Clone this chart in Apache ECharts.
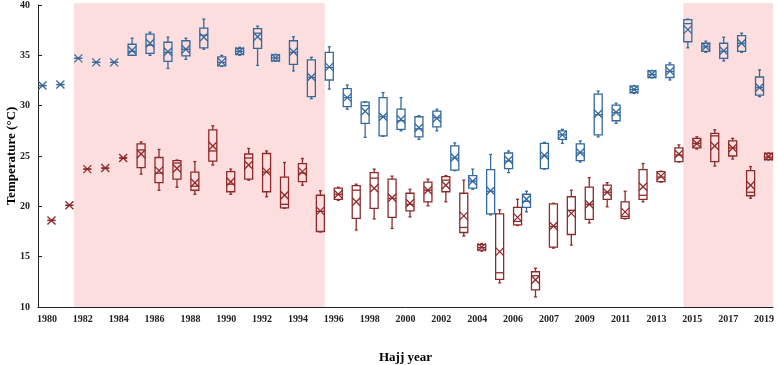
<!DOCTYPE html>
<html>
<head>
<meta charset="utf-8">
<title>Hajj temperature</title>
<script src="https://cdn.jsdelivr.net/npm/echarts@6/dist/echarts.min.js"></script>
<style>
  html, body { margin: 0; padding: 0; background: #fff; }
  #chart { width: 778px; height: 365px; }
</style>
</head>
<body>
<div id="chart"></div>
<script>
// Hajj years (2006 had two Hajj seasons)
var years = ['1980','1981','1982','1983','1984','1985','1986','1987','1988','1989',
  '1990','1991','1992','1993','1994','1995','1996','1997','1998','1999',
  '2000','2001','2002','2003','2004','2005','2006','2006','2007','2008',
  '2009','2010','2011','2012','2013','2014','2015','2016','2017','2018','2019'];

// shaded periods (first / last year)
var shadedSpans = [['1982', '1995'], ['2015', '2019']];

// blue series (upper)
var blueMin  = [32.0,32.1,34.7,34.3,34.3,35.0,35.0,33.7,34.6,35.6,33.9,35.0,34.0,34.4,33.45,30.7,31.65,29.65,26.85,26.95,27.5,26.65,27.5,23.55,21.7,19.15,23.35,19.45,23.7,26.25,24.4,26.9,28.25,31.2,32.75,32.55,35.75,35.3,34.45,35.3,30.9];
var blueQ1   = [32.0,32.1,34.7,34.3,34.3,35.0,35.2,34.4,34.95,35.75,33.95,35.1,35.7,34.45,34.1,30.9,32.55,29.9,28.25,27.0,27.65,26.9,27.9,23.6,21.8,19.25,23.75,19.9,23.75,26.65,24.55,27.1,28.5,31.3,32.8,32.8,36.35,35.4,34.7,35.4,31.05];
var blueMed  = [32.0,32.1,34.7,34.3,34.3,35.4,36.0,35.3,35.6,37.0,34.3,35.4,37.2,34.75,35.3,32.8,33.8,30.8,30.0,28.9,28.5,27.7,28.8,24.8,22.5,21.5,24.5,20.5,25.0,27.1,25.3,29.1,29.3,31.6,33.1,33.4,38.15,35.85,35.4,36.2,31.8];
var blueQ3   = [32.0,32.1,34.7,34.3,34.3,36.1,37.1,36.3,36.45,37.7,34.85,35.7,37.65,35.05,36.45,34.55,35.3,31.7,30.35,30.8,29.65,28.9,29.45,26.0,23.05,23.65,25.3,21.2,26.25,27.5,26.2,31.15,30.05,31.95,33.45,34.05,38.55,36.2,36.2,36.95,32.85];
var blueMax  = [32.0,32.1,34.7,34.3,34.3,36.7,37.3,36.8,36.7,38.6,35.0,35.8,37.9,35.1,36.85,34.8,35.85,32.05,30.4,31.3,30.8,29.0,29.65,26.3,23.7,25.15,25.5,21.5,26.35,27.65,26.5,31.45,30.25,32.0,33.5,34.25,38.6,36.4,36.8,37.2,33.55];
var blueMean = [32.0,32.1,34.7,34.3,34.3,35.5,36.2,35.35,35.6,36.8,34.35,35.4,36.85,34.75,35.35,32.85,33.85,30.8,29.45,28.9,28.65,27.8,28.75,24.85,22.5,21.55,24.6,20.7,25.05,27.1,25.35,29.2,29.35,31.6,33.15,33.45,37.55,35.85,35.45,36.2,31.8];

// red series (lower)
var redMin  = [18.6,20.1,23.7,23.8,24.8,23.2,21.6,21.9,21.2,24.1,21.2,22.6,20.95,19.8,22.1,17.45,20.6,17.65,18.75,17.8,18.95,20.05,20.45,17.05,15.55,12.4,18.1,11.0,15.85,16.15,18.35,19.95,18.75,20.45,22.4,24.4,25.7,24.0,24.7,20.8,24.6];
var redQ1   = [18.6,20.1,23.7,23.8,24.8,23.85,22.35,22.7,21.6,24.5,21.45,22.7,21.45,19.85,22.45,17.5,20.7,18.8,19.8,18.9,19.55,20.45,21.45,17.4,15.65,12.75,18.15,11.7,15.95,17.2,18.7,20.7,18.8,20.7,22.45,24.45,25.8,24.45,25.0,21.05,24.65];
var redMed  = [18.6,20.1,23.7,23.8,24.8,25.6,23.3,24.3,22.0,25.5,22.2,24.8,23.4,20.2,23.3,19.5,21.2,21.6,22.8,20.8,20.2,21.6,22.6,17.9,15.9,13.4,18.5,13.1,18.0,19.6,20.2,21.4,19.0,21.1,22.9,25.1,26.25,27.0,25.8,21.4,24.9];
var redQ3   = [18.6,20.1,23.7,23.8,24.8,26.2,24.85,24.55,23.4,27.6,23.45,25.2,25.25,22.9,24.25,21.1,21.8,22.05,23.35,22.7,21.3,22.4,22.95,21.3,16.2,19.25,19.9,13.5,20.25,20.95,21.9,22.1,20.45,23.65,23.45,25.8,26.75,27.25,26.5,23.55,25.25];
var redMax  = [18.6,20.1,23.7,23.8,24.8,26.4,25.65,24.6,24.45,28.0,23.7,25.75,25.5,24.35,24.75,21.55,21.9,22.2,23.7,23.0,21.7,22.7,23.05,22.6,16.3,19.65,20.7,13.85,20.3,21.6,22.85,22.35,21.5,24.25,23.5,26.1,26.9,27.6,26.75,23.95,25.3];
var redMean = [18.6,20.1,23.7,23.8,24.8,25.2,23.55,23.75,22.35,26.0,22.45,24.1,23.45,21.1,23.45,19.55,21.2,20.45,21.8,20.85,20.3,21.6,22.1,19.05,15.95,15.5,18.9,12.7,18.05,19.3,20.2,21.4,19.45,21.95,23.0,25.2,26.25,26.0,25.8,22.1,24.95];

var BLUE = '#35699c';
var RED = '#8e2a2a';
var PINK = '#fcdede';
var FONT = 'Liberation Serif';

// rows for the custom series: [index, min, q1, median, q3, max, mean]
function buildRows(mn, q1, md, q3, mx, mean) {
  var rows = [];
  for (var i = 0; i < years.length; i++) {
    rows.push([i, mn[i], q1[i], md[i], q3[i], mx[i], mean[i]]);
  }
  return rows;
}

function spanRows() {
  var rows = [];
  shadedSpans.forEach(function (s) {
    var a = -1, b = -1;
    years.forEach(function (y, i) {
      if (y === s[0] && a < 0) a = i;
      if (y === s[1]) b = i;
    });
    rows.push([a, b]);
  });
  return rows;
}

// Excel-like box: box + median + small caps + X at the mean
function boxRenderer(color, offset) {
  return function (params, api) {
    var i = api.value(0);
    var x = api.coord([i, 20])[0] + offset;
    var yMin = api.coord([i, api.value(1)])[1];
    var yQ1 = api.coord([i, api.value(2)])[1];
    var yMed = api.coord([i, api.value(3)])[1];
    var yQ3 = api.coord([i, api.value(4)])[1];
    var yMax = api.coord([i, api.value(5)])[1];
    var yMean = api.coord([i, api.value(6)])[1];
    var hw = 4, cap = 1.5, xs = 4;
    var st = { stroke: color, lineWidth: 1.3, fill: null };
    function seg(x1, y1, x2, y2) {
      return { type: 'line', shape: { x1: x1, y1: y1, x2: x2, y2: y2 }, style: st };
    }
    return {
      type: 'group',
      children: [
        { type: 'rect', shape: { x: x - hw, y: yQ3, width: hw * 2, height: yQ1 - yQ3 }, style: st },
        seg(x - hw, yMed, x + hw, yMed),
        seg(x, yMax, x, yQ3),
        seg(x, yQ1, x, yMin),
        seg(x - cap, yMax, x + cap, yMax),
        seg(x - cap, yMin, x + cap, yMin),
        seg(x - xs, yMean - xs, x + xs, yMean + xs),
        seg(x - xs, yMean + xs, x + xs, yMean - xs)
      ]
    };
  };
}

var chart = echarts.init(document.getElementById('chart'));

var option = {
  animation: false,
  grid: { left: 38, right: 5, top: 5, bottom: 58, containLabel: false, outerBoundsMode: 'none' },
  xAxis: {
    type: 'category',
    data: years,
    boundaryGap: true,
    name: 'Hajj year',
    nameLocation: 'middle',
    nameGap: 44,
    nameTextStyle: { fontFamily: FONT, fontWeight: 'bold', fontSize: 13, color: '#000' },
    axisLine: { lineStyle: { color: '#222', width: 1 } },
    axisTick: { inside: true, length: 4, interval: 0, lineStyle: { color: '#222' } },
    axisLabel: { interval: 1, margin: 7, fontFamily: FONT, fontWeight: 'bold', fontSize: 10, color: '#222' },
    splitLine: { show: false }
  },
  yAxis: {
    type: 'value',
    min: 10,
    max: 40,
    interval: 5,
    name: 'Temperature (°C)',
    nameLocation: 'middle',
    nameGap: 20,
    nameMoveOverlap: false,
    nameTextStyle: { fontFamily: FONT, fontWeight: 'bold', fontSize: 13, color: '#000' },
    axisLine: { show: true, lineStyle: { color: '#222', width: 1 } },
    axisTick: { show: true, inside: true, length: 4, lineStyle: { color: '#222' } },
    axisLabel: { margin: 8, fontFamily: FONT, fontWeight: 'bold', fontSize: 10, color: '#222' },
    splitLine: { show: false }
  },
  series: [
    {
      // pink background periods
      type: 'custom',
      z: 1,
      silent: true,
      data: spanRows(),
      renderItem: function (params, api) {
        var band = api.size([1, 0])[0];
        var x0 = api.coord([api.value(0), 10])[0] - band / 2;
        var x1 = api.coord([api.value(1), 10])[0] + band / 2;
        var cs = params.coordSys;
        return {
          type: 'rect',
          shape: { x: x0, y: cs.y - 2, width: x1 - x0, height: cs.height + 2 },
          style: { fill: PINK }
        };
      }
    },
    {
      name: 'blue',
      type: 'custom',
      z: 3,
      data: buildRows(blueMin, blueQ1, blueMed, blueQ3, blueMax, blueMean),
      encode: { x: 0, y: [1, 2, 3, 4, 5, 6] },
      renderItem: boxRenderer(BLUE, -4.5)
    },
    {
      name: 'red',
      type: 'custom',
      z: 3,
      data: buildRows(redMin, redQ1, redMed, redQ3, redMax, redMean),
      encode: { x: 0, y: [1, 2, 3, 4, 5, 6] },
      renderItem: boxRenderer(RED, 4.5)
    }
  ]
};

chart.setOption(option);
</script>
</body>
</html>
